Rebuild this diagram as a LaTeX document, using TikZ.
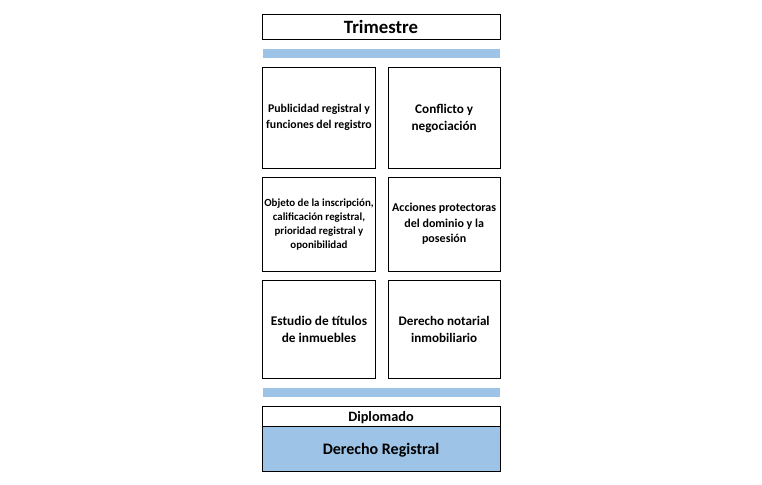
\documentclass[tikz,border=0pt]{standalone}
\usepackage{fontspec}
\setmainfont{Carlito}
\definecolor{barblue}{RGB}{157,195,230}
\begin{document}
\begin{tikzpicture}[x=1pt,y=-1pt,
  box/.style={draw=black,line width=1pt,inner sep=0pt,outer sep=0pt,align=center,font=\bfseries\fontsize{11.8}{16}\selectfont},
  bar/.style={fill=barblue,inner sep=0pt,outer sep=0pt,minimum width=237pt,minimum height=9pt}]
\useasboundingbox (0,0) rectangle (762,484);
\node[box,minimum width=238pt,minimum height=25pt,font=\bfseries\fontsize{18.8}{20}\selectfont] (tri) at (381,26.8) {Trimestre};
\node[bar] (bar1) at (381.5,53.3) {};
\node[box,minimum width=113.5pt,minimum height=101pt] (b1) at (319,117.6) {Publicidad registral y\\funciones del registro};
\node[box,minimum width=111.7pt,minimum height=101pt,font=\bfseries\fontsize{13.2}{17}\selectfont] (b2) at (444.2,118.2) {Conflicto y\\negociación};
\node[box,minimum width=113.5pt,minimum height=93.7pt,font=\bfseries\fontsize{10.9}{14}\selectfont] (b3) at (319,224.2) {Objeto de la inscripción,\\calificación registral,\\prioridad registral y\\oponibilidad};
\node[box,minimum width=111.7pt,minimum height=93.7pt,font=\bfseries\fontsize{12}{15.5}\selectfont] (b4) at (444.2,224.2) {Acciones protectoras\\del dominio y la\\posesión};
\node[box,minimum width=113.5pt,minimum height=97.6pt,font=\bfseries\fontsize{13.3}{17}\selectfont] (b5) at (319,329.5) {Estudio de títulos\\de inmuebles};
\node[box,minimum width=111.7pt,minimum height=97.6pt,font=\bfseries\fontsize{13.1}{17}\selectfont] (b6) at (444.2,329.5) {Derecho notarial\\inmobiliario};
\node[bar] (bar2) at (381.5,392.7) {};
\node[box,minimum width=238pt,minimum height=19.3pt,text depth=0pt,font=\bfseries\fontsize{14.3}{15}\selectfont] (dip) at (381,416.4) {Diplomado};
\node[box,fill=barblue,minimum width=238pt,minimum height=45pt,text depth=0pt,font=\bfseries\fontsize{16}{18}\selectfont] (der) at (381,448.5) {Derecho Registral};
\end{tikzpicture}
\end{document}
